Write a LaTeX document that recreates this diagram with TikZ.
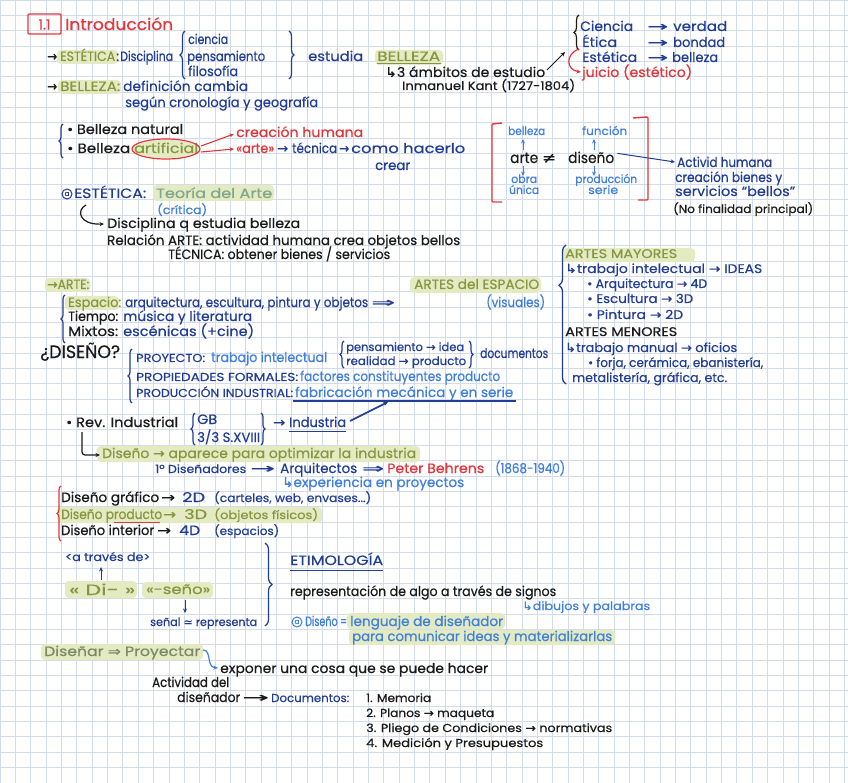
\documentclass[tikz,border=0pt]{standalone}
\usepackage{graphicx}
\usepackage{fontspec}
\setmainfont{Poppins}[FakeBold=0.45]
\newfontfamily\symf{DejaVu Sans}[FakeBold=0.45]
\usetikzlibrary{arrows.meta,decorations.pathreplacing}
\definecolor{redc}{HTML}{E2363B}
\definecolor{navyc}{HTML}{223D96}
\definecolor{bluec}{HTML}{3F7FDD}
\definecolor{olivec}{HTML}{869540}
\definecolor{hlc}{HTML}{E4EBC2}
\definecolor{tealc}{HTML}{7FA68F}
\definecolor{blk}{HTML}{1A1A1A}
\definecolor{gridc}{HTML}{D3DCEA}
\definecolor{greyol}{HTML}{7D8866}
\newcommand{\Wd}[2]{\resizebox{#1pt}{\height}{#2}}
\newcommand{\myra}{{\symf →}}
\newcommand{\myhk}{{\symf ↳}}
\newcommand{\myRa}{{\symf ⇒}}
\newcommand{\myne}{{\symf ≠}}
\newcommand{\mysim}{{\symf ≃}}
\begin{document}
\begin{tikzpicture}[x=1pt,y=-1pt,
  t/.style={anchor=base west, inner sep=0pt, text=blk, font=\fontsize{13.5}{15}\selectfont},
  sm/.style={t, font=\fontsize{11.5}{13}\selectfont},
  md/.style={t, font=\fontsize{12.5}{14}\selectfont},
  ar/.style={-{Stealth[length=4.5pt,width=4pt]}, line width=1pt},
  brc/.style={decorate, decoration={brace, amplitude=#1}, line width=1.2pt},
  hl/.style={fill=hlc, rounded corners=4pt},
  csym/.style={draw, circle, line width=1pt, inner sep=0pt, minimum size=10pt, font=\fontsize{7}{7}\selectfont}
]
\useasboundingbox (0,0) rectangle (848,783);
\fill[white] (0,0) rectangle (848,783);
\foreach \i in {0,...,55} \draw[gridc, line width=0.7pt] (\i*15.35,0) -- (\i*15.35,783);
\foreach \j in {0,...,51} \draw[gridc, line width=0.7pt] (0,\j*15.35) -- (848,\j*15.35);

% ---------- highlights
\fill[hl] (57,50) rectangle (118,64);
\fill[hl] (375,50) rectangle (443,65);
\fill[hl] (58,80) rectangle (121,94);
\fill[hl] (153,185) rectangle (274,201);
\fill[hl] (45,278) rectangle (90,292);
\fill[hl] (410,277) rectangle (541,293);
\fill[hl] (65,296) rectangle (119,310);
\fill[hl] (562,248) rectangle (695,262);
\fill[hl] (97,446) rectangle (420,462);
\fill[hl] (57,507) rectangle (322,523);
\fill[hl] (65,581) rectangle (137,598);
\fill[hl] (142,582) rectangle (213,598);
\fill[hl] (347,613) rectangle (505,629);
\fill[hl] (349,630) rectangle (615,645);
\fill[hl] (41,644) rectangle (203,660);
\fill[hlc] (166,149) ellipse (33 and 9);

% ---------- title
\draw[redc, line width=1.4pt, rounded corners=1pt] (28,14) rectangle (61,34);
\node[t, text=redc, font=\fontsize{14}{15}\selectfont, anchor=center] (tnum) at (44.5,24.5) {1.1};
\node[t, text=redc, font=\fontsize{16}{17}\selectfont] (title) at (65,30) {\Wd{108}{Introducción}};

% ---------- ESTETICA row
\node[t] (a1) at (47,61) {\Wd{10}{\myra}};
\node[t, text=olivec] (est) at (60,61) {\Wd{55}{ESTÉTICA}};
\node[t, text=navyc] (c1) at (116,61) {\Wd{3}{:}};
\node[t, text=navyc] (disc) at (120,61) {\Wd{53}{Disciplina}};
\draw[brc=5pt, navyc] (185,79) -- (185,31);
\node[t, text=navyc] (cien) at (188,44) {\Wd{40}{ciencia}};
\node[t, text=navyc] (pens) at (187,61) {\Wd{78}{pensamiento}};
\node[t, text=navyc] (filo) at (188,76) {\Wd{50}{filosofía}};
\draw[brc=5pt, navyc] (289,31) -- (289,79);
\node[t, text=navyc] (estu) at (308,61) {\Wd{55}{estudia}};
\node[t, text=olivec] (bel1) at (377,61) {\Wd{63}{BELLEZA}};
\draw[olivec, line width=1pt] (377,64) -- (441,64);
\node[t] (amb) at (385,77) {\Wd{160}{\myhk 3 ámbitos de estudio}};
\node[t, font=\fontsize{12}{13}\selectfont] (kant) at (402,90) {\Wd{173}{Inmanuel Kant (1727-1804)}};
\draw[ar, blk] (547,70) -- (565,52);

\draw[brc=5pt, blk] (579,50) -- (579,15);
\node[t, text=navyc] (cien2) at (580,31) {\Wd{53}{Ciencia}};
\node[t, text=navyc] (ar21) at (647,31) {\Wd{21}{\myra}};
\node[t, text=navyc] (verd) at (673,31) {\Wd{54}{verdad}};
\node[t, text=navyc] (etic) at (582,47) {\Wd{35}{Ética}};
\node[t, text=navyc] (ar22) at (647,47) {\Wd{21}{\myra}};
\node[t, text=navyc] (bond) at (673,47) {\Wd{52}{bondad}};
\node[t, text=navyc] (este2) at (582,62) {\Wd{55}{Estética}};
\node[t, text=navyc] (ar23) at (647,62) {\Wd{21}{\myra}};
\node[t, text=navyc] (bell2) at (672,62) {\Wd{46}{belleza}};
\node[t, text=redc] (juic) at (582,77) {\Wd{110}{juicio (estético)}};
\draw[ar, redc, line width=1.2pt] (579,49) .. controls (565,54) and (566,70) .. (581,72);

% ---------- BELLEZA row
\node[t] (a2) at (47,91) {\Wd{10}{\myra}};
\node[t, text=olivec] (bel2) at (60,91) {\Wd{60}{BELLEZA:}};
\node[t, text=navyc] (defi) at (123,91) {\Wd{125}{definición cambia}};
\node[t, text=navyc] (segu) at (125,107) {\Wd{193}{según cronología y geografía}};

% ---------- belleza natural / artificial
\draw[brc=4pt, navyc] (63,158) -- (63,124);
\node[t] (bnat) at (67,134) {\Wd{116}{• Belleza natural}};
\node[t] (bart) at (67,153) {\Wd{63}{• Belleza}};
\node[t, text=olivec] (arti) at (134,153) {\Wd{64}{artificial}};
\draw[redc, line width=1.2pt] (166,149) ellipse (34 and 10);
\draw[ar, redc, line width=1.1pt] (201,146) -- (234,134);
\draw[ar, redc, line width=1.1pt] (201,152) -- (234,149);
\node[t, text=redc] (crea) at (236,137) {\Wd{127}{creación humana}};
\node[t, text=redc] (arte1) at (236,153) {\Wd{38}{«arte»}};
\node[t, text=navyc] (ar31) at (277,153) {\Wd{11}{\myra}};
\node[t, text=navyc] (tecn) at (292,153) {\Wd{45}{técnica}};
\node[t, text=navyc] (ar32) at (339,153) {\Wd{10}{\myra}};
\node[t, text=navyc] (como) at (351,153) {\Wd{114}{como hacerlo}};
\node[t, text=navyc] (crear) at (375,170) {\Wd{35}{crear}};

% ---------- ESTETICA teoria
\node[csym, draw=navyc, text=navyc] (cs1) at (67,194) {a};
\node[t, text=navyc] (est2) at (74,198) {\Wd{72}{ESTÉTICA:}};
\node[t, text=tealc] (teor) at (156,198) {\Wd{116}{Teoría del Arte}};
\node[sm, text=bluec] (crit) at (157,214) {\Wd{50}{(crítica)}};
\draw[ar, blk, line width=1.2pt] (86,205) .. controls (76,210) and (79,225) .. (104,224);
\node[t] (dqeb) at (107,228) {\Wd{193}{Disciplina q estudia belleza}};
\node[t] (rela) at (107,245) {\Wd{353}{Relación ARTE: actividad humana crea objetos bellos}};
\node[t] (tecb) at (168,259) {\Wd{222}{TÉCNICA: obtener bienes / servicios}};

% ---------- arte != diseño
\draw[redc, line width=1.4pt, rounded corners=1pt] (502,123) -- (492,124) -- (492,202) -- (502,202);
\draw[redc, line width=1.4pt, rounded corners=1pt] (633,118) -- (648,117) -- (648,200) -- (638,200);
\node[sm, text=bluec] (bel3) at (508,135) {\Wd{37}{belleza}};
\node[sm, text=bluec] (func) at (582,135) {\Wd{45}{función}};
\node[t, font=\fontsize{15}{16}\selectfont] (arte2) at (510,163) {\Wd{28}{arte}};
\node[t, font=\fontsize{15}{16}\selectfont] (neq) at (542,163) {\Wd{14}{\myne}};
\node[t, font=\fontsize{15}{16}\selectfont] (dise) at (568,163) {\Wd{46}{diseño}};
\draw[ar, bluec] (523,150) -- (523,139);
\draw[ar, bluec] (594,150) -- (594,139);
\draw[ar, bluec] (523,166) -- (523,176);
\draw[ar, bluec] (594,166) -- (594,176);
\node[sm, text=bluec] (obra) at (511,183) {\Wd{26}{obra}};
\node[sm, text=bluec] (unic) at (509,194) {\Wd{30}{única}};
\node[sm, text=bluec] (prod) at (575,183) {\Wd{62}{producción}};
\node[sm, text=bluec] (seri) at (588,194) {\Wd{30}{serie}};
\draw[ar, navyc] (dise.east) ++(3,-4) -- (675,162);
\node[t, text=navyc] (acti) at (677,167) {\Wd{95}{Activid humana}};
\node[t, text=navyc] (cbie) at (675,182) {\Wd{107}{creación bienes y}};
\node[t, text=navyc] (serv) at (675,196) {\Wd{120}{servicios “bellos”}};
\node[sm] (nofi) at (673,213) {\Wd{140}{(No finalidad principal)}};

% ---------- ARTE
\node[t, text=olivec] (arte3) at (47,289) {\Wd{42}{\myra ARTE:}};
\node[t, text=olivec] (aesp) at (414,289) {\Wd{125}{ARTES del ESPACIO}};
\draw[brc=4pt, navyc] (65,343) -- (65,295);
\node[t, text=olivec] (espa) at (68,307) {\Wd{53}{Espacio:}};
\node[t, text=navyc] (arqu) at (125,307) {\Wd{243}{arquitectura, escultura, pintura y objetos}};
\node[t, text=navyc] (dbl1) at (371,307) {\Wd{24}{\myRa}};
\node[t, text=bluec] (visu) at (486,307) {\Wd{59}{(visuales)}};
\node[t] (tiem) at (68,321) {\Wd{50}{Tiempo:}};
\node[t, text=navyc] (musi) at (123,321) {\Wd{129}{música y literatura}};
\node[t] (mixt) at (68,336) {\Wd{50}{Mixtos:}};
\node[t, text=navyc] (esce) at (123,336) {\Wd{131}{escénicas (+cine)}};

% ---------- DISEÑO?
\node[t, font=\fontsize{18}{19}\selectfont] (dq) at (40,358) {\Wd{80}{¿DISEÑO?}};
\draw[brc=4pt, navyc] (132,403) -- (132,349);
\node[sm, text=navyc] (proy) at (136,362) {\Wd{69}{PROYECTO:}};
\node[t, text=bluec] (trab) at (211,362) {\Wd{116}{trabajo intelectual}};
\draw[brc=4pt, navyc] (344,368) -- (344,341);
\node[sm, text=navyc] (pid) at (346,351) {\Wd{118}{pensamiento \myra\ idea}};
\node[sm, text=navyc] (rpr) at (346,365) {\Wd{120}{realidad \myra\ producto}};
\draw[brc=4pt, navyc] (469,341) -- (469,368);
\node[t, text=navyc] (docu) at (480,358) {\Wd{68}{documentos}};
\node[sm, text=navyc] (prop) at (136,381) {\Wd{162}{PROPIEDADES FORMALES:}};
\node[t, text=bluec] (fact) at (300,381) {\Wd{200}{factores constituyentes producto}};
\node[sm, text=navyc] (pind) at (136,397) {\Wd{157}{PRODUCCIÓN INDUSTRIAL:}};
\node[t, text=bluec] (fabr) at (295,397) {\Wd{218}{fabricación mecánica y en serie}};
\draw[navyc, line width=1.4pt] (293,401) -- (516,401);

% ---------- ARTES MAYORES / MENORES
\draw[decorate, decoration={brace, amplitude=7pt, aspect=0.71}, line width=1.3pt, navyc] (566,384) -- (566,245);
\node[md, text=olivec] (amay) at (565,258) {\Wd{112}{ARTES MAYORES}};
\node[md, text=navyc] (tint) at (565,273) {\Wd{197}{\myhk trabajo intelectual \myra\ IDEAS}};
\node[md, text=navyc] (arq4) at (587,288) {\Wd{120}{• Arquitectura \myra\ 4D}};
\node[md, text=navyc] (esc3) at (587,303) {\Wd{106}{• Escultura \myra\ 3D}};
\node[md, text=navyc] (pin2) at (587,319) {\Wd{96}{• Pintura \myra\ 2D}};
\node[md] (amen) at (565,336) {\Wd{112}{ARTES MENORES}};
\node[md, text=navyc] (tman) at (565,352) {\Wd{172}{\myhk trabajo manual \myra\ oficios}};
\node[md, text=navyc] (forj) at (588,367) {\Wd{175}{• forja, cerámica, ebanistería,}};
\node[md, text=navyc] (meta) at (572,382) {\Wd{155}{metalistería, gráfica, etc.}};

% ---------- Rev. Industrial
\node[t] (revi) at (66,427) {\Wd{112}{• Rev. Industrial}};
\draw[brc=4pt, navyc] (195,445) -- (195,413);
\node[t, text=navyc] (gb) at (197,424) {\Wd{20}{GB}};
\node[t, text=navyc] (sxv) at (197,442) {\Wd{63}{3/3 S.XVIII}};
\draw[brc=4pt, navyc] (261,413) -- (261,445);
\node[t, text=navyc] (ar41) at (273,427) {\Wd{12}{\myra}};
\node[t, text=navyc] (indu) at (289,427) {\Wd{57}{Industria}};
\draw[navyc, line width=1pt] (289,431) -- (346,431);
\draw[ar, navyc, line width=1.6pt] (350,421) -- (388,402);
\draw[ar, blk, line width=1.2pt, rounded corners=3pt] (82,432) |- (100,455);
\node[t, text=olivec] (dapa) at (102,458) {\Wd{314}{Diseño \myra\ aparece para optimizar la industria}};
\node[sm, text=navyc] (pdis) at (155,473) {\Wd{91}{1º Diseñadores}};
\node[t, text=navyc] (ar42) at (250,473) {\Wd{25}{\myra}};
\node[t, text=navyc] (arqi) at (280,473) {\Wd{77}{Arquitectos}};
\node[t, text=navyc] (dbl2) at (362,473) {\Wd{22}{\myRa}};
\node[t, text=redc] (pete) at (387,473) {\Wd{97}{Peter Behrens}};
\node[t, text=bluec] (fech) at (495,473) {\Wd{70}{(1868-1940)}};
\node[t, text=bluec] (expe) at (282,487) {\Wd{182}{\myhk experiencia en proyectos}};

% ---------- types of design
\draw[brc=4pt, redc] (61,541) -- (61,486);
\node[t] (dgra) at (61,502) {\Wd{98}{Diseño gráfico}};
\node[t] (ar51) at (161,502) {\Wd{14}{\myra}};
\node[t, text=navyc] (d2d) at (182,502) {\Wd{23}{2D}};
\node[sm, text=navyc] (cart) at (214,502) {\Wd{157}{(carteles, web, envases...)}};
\node[t, text=olivec] (dpro) at (61,519) {\Wd{101}{Diseño producto}};
\draw[redc, line width=1pt] (114,522) -- (160,522);
\node[t, text=olivec] (ar52) at (163,519) {\Wd{13}{\myra}};
\node[t, text=olivec] (d3d) at (184,519) {\Wd{23}{3D}};
\node[sm, text=olivec] (obje) at (214,519) {\Wd{104}{(objetos físicos)}};
\node[t] (dint) at (61,535) {\Wd{93}{Diseño interior}};
\node[t] (ar53) at (157,535) {\Wd{14}{\myra}};
\node[t, text=navyc] (d4d) at (179,535) {\Wd{21}{4D}};
\node[sm, text=navyc] (espc) at (214,535) {\Wd{65}{(espacios)}};

% ---------- Etimología
\node[sm, text=navyc] (atra) at (65,561) {\Wd{85}{<a través de>}};
\draw[ar, navyc] (101,580) -- (101,567);
\node[t, text=olivec, font=\fontsize{15}{16}\selectfont] (di) at (69,595) {\Wd{66}{« Di- »}};
\node[t, text=olivec] (seno) at (146,594) {\Wd{64}{«-seño»}};
\draw[ar, navyc] (185,600) -- (185,613);
\node[sm, text=navyc] (sena) at (150,626) {\Wd{107}{señal \mysim\ representa}};
\draw[brc=7pt, navyc] (265,543) -- (265,626);
\node[t, text=navyc] (etim) at (290,565) {\Wd{93}{ETIMOLOGÍA}};
\draw[navyc, line width=1pt] (290,570) -- (383,570);
\node[t] (repr) at (290,596) {\Wd{266}{representación de algo a través de signos}};
\node[sm, text=bluec] (dibu) at (522,610) {\Wd{128}{\myhk dibujos y palabras}};
\node[csym, draw=bluec, text=bluec] (cs2) at (297,622) {a};
\node[t, text=bluec] (dise2) at (305,626) {\Wd{42}{Diseño =}};
\node[t, text=bluec] (leng) at (350,626) {\Wd{153}{lenguaje de diseñador}};
\node[t, text=bluec] (para) at (352,641) {\Wd{260}{para comunicar ideas y materializarlas}};

% ---------- Diseñar = Proyectar
\node[t, text=greyol] (dpry) at (44,656) {\Wd{156}{Diseñar \myRa\ Proyectar}};
\draw[ar, bluec, line width=1.2pt] (203,650) .. controls (212,650) and (206,667) .. (218,668);
\node[t] (expo) at (220,673) {\Wd{268}{exponer una cosa que se puede hacer}};
\node[t] (acdl) at (152,687) {\Wd{77}{Actividad del}};
\node[t] (disr) at (177,702) {\Wd{63}{diseñador}};
\node[t] (ar61) at (242,702) {\Wd{27}{\myra}};
\node[sm, text=navyc] (docs) at (271,702) {\Wd{78}{Documentos:}};
\node[sm] (mem) at (366,702) {\Wd{65}{1. Memoria}};
\node[sm] (plan) at (366,717) {\Wd{128}{2. Planos \myra\ maqueta}};
\node[sm] (plie) at (366,732) {\Wd{246}{3. Pliego de Condiciones \myra\ normativas}};
\node[sm] (medi) at (366,747) {\Wd{177}{4. Medición y Presupuestos}};
\end{tikzpicture}
\end{document}
